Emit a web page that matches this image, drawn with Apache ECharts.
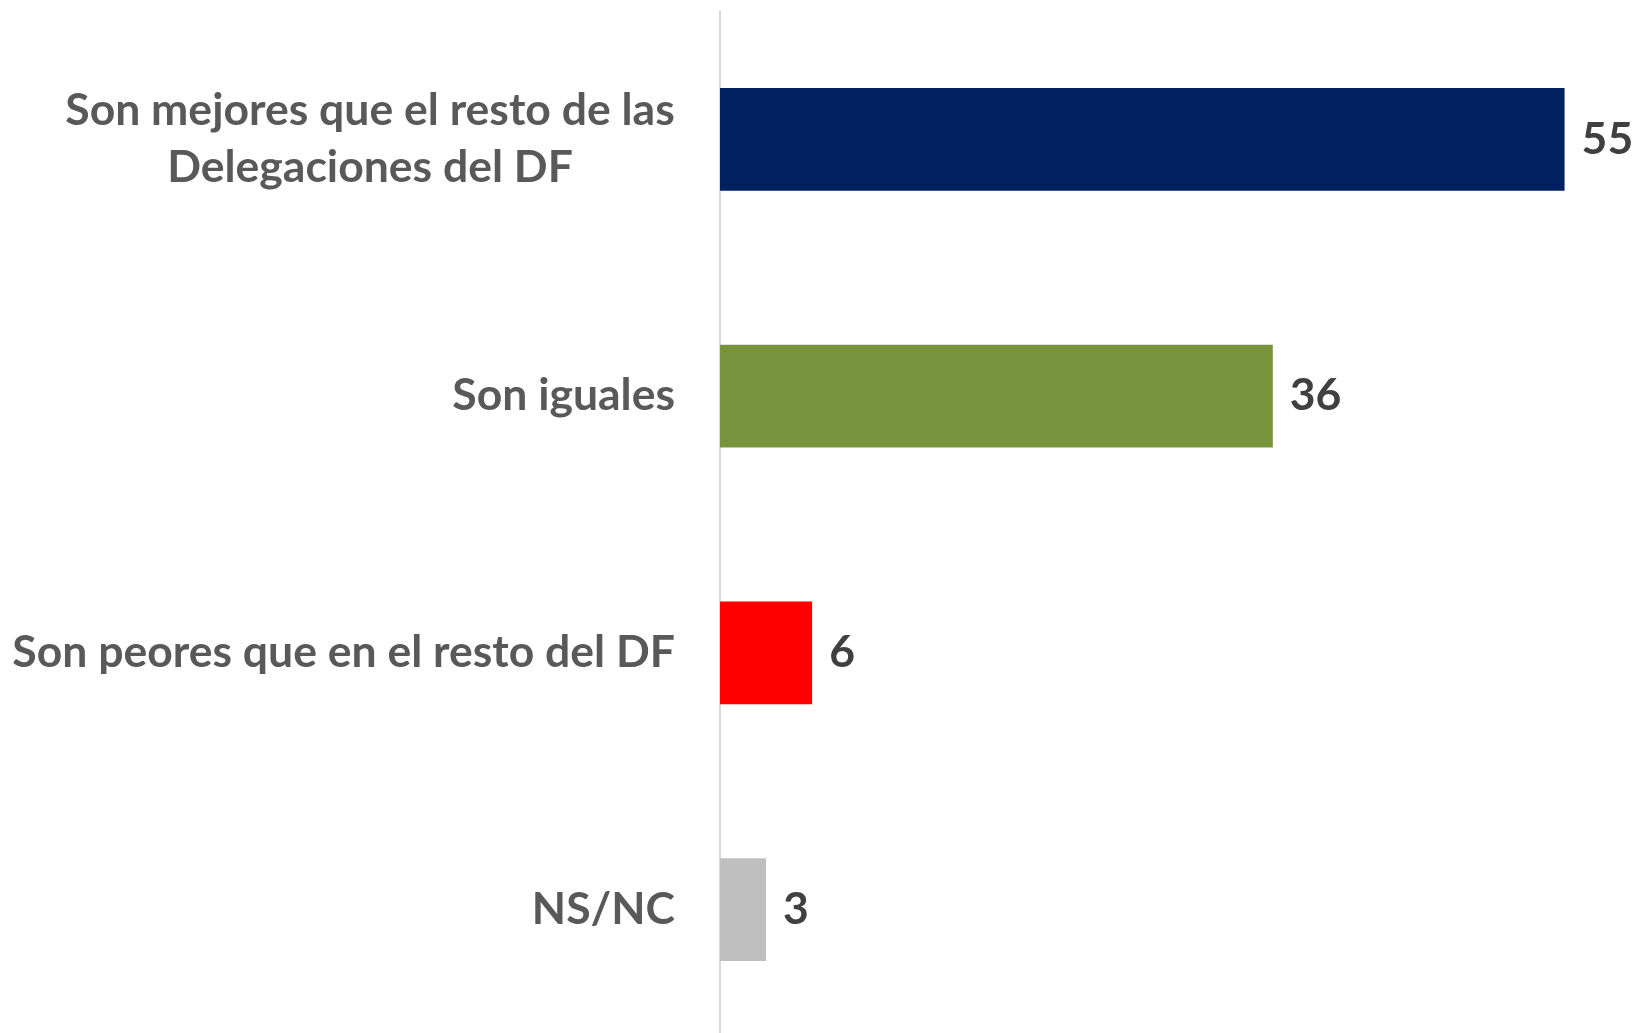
<!DOCTYPE html>
<html>
<head>
<meta charset="utf-8">
<script src="https://cdn.jsdelivr.net/npm/echarts@6/dist/echarts.min.js"></script>
<style>
  html, body { margin: 0; padding: 0; background: #fff; overflow: hidden; }
  /* slightly taller than the window: the bottom band runs past the frame */
  #chart { width: 1634px; height: 1040px; }
</style>
</head>
<body>
<div id="chart"></div>
<script>
// categories listed bottom to top
const categories = ['NS/NC', 'Son peores que en el resto del DF', 'Son iguales', 'Son mejores que el resto de las\nDelegaciones del DF'];
const values = [3, 6, 36, 55];
const barColors = ['#BFBFBF', '#FF0000', '#77933C', '#002060'];

const labelFont = 'bold 44.5px Lato';
// width of the longest line of the two-line label, so its lines can be centred
const ctx = document.createElement('canvas').getContext('2d');
ctx.font = labelFont;
const wrapWidth = Math.ceil(Math.max(...categories[3].split('\n').map(s => ctx.measureText(s).width)));

const chart = echarts.init(document.getElementById('chart'));

const option = {
  animation: false,
  grid: { left: 720, top: 11, width: 906, height: 1027, containLabel: false },
  xAxis: {
    type: 'value',
    min: 0,
    max: 59,
    show: false
  },
  yAxis: {
    type: 'category',
    data: categories,
    axisLine: { show: true, lineStyle: { color: '#D9D9D9', width: 2 } },
    axisTick: { show: false },
    axisLabel: {
      margin: 45,
      color: '#595959',
      fontFamily: 'Lato',
      fontWeight: 'bold',
      fontSize: 44.5,
      lineHeight: 57,
      formatter: function (v) {
        if (v.indexOf('\n') >= 0) return '{c|' + v + '}';
        return v;
      },
      rich: {
        c: {
          color: '#595959',
          fontFamily: 'Lato',
          fontWeight: 'bold',
          fontSize: 44.5,
          lineHeight: 57,
          width: wrapWidth,
          align: 'center'
        }
      }
    }
  },
  series: [{
    type: 'bar',
    barWidth: '40%',
    data: values.map((v, i) => ({ value: v, itemStyle: { color: barColors[i] } })),
    label: {
      show: true,
      position: 'right',
      distance: 17,
      color: '#404040',
      fontFamily: 'Lato',
      fontWeight: 'bold',
      fontSize: 44.5
    }
  }]
};

chart.setOption(option);
</script>
</body>
</html>
